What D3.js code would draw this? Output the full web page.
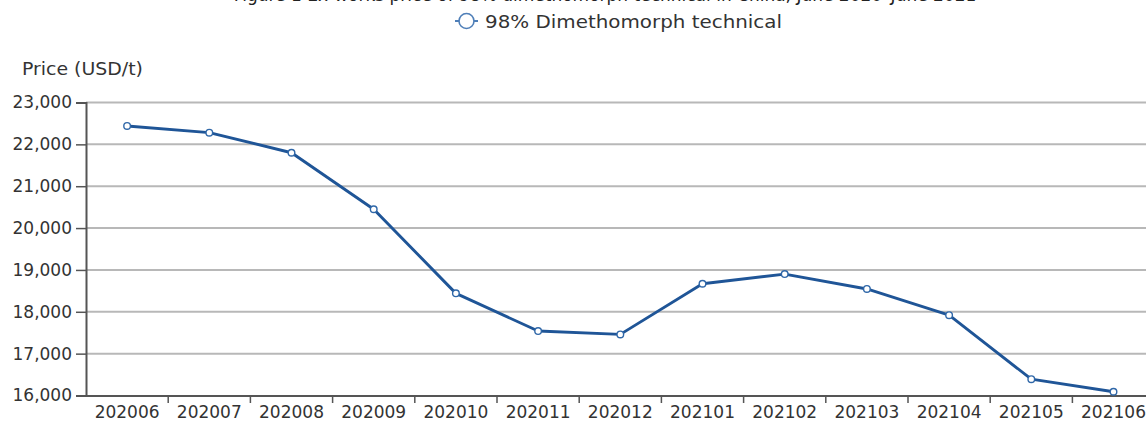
<!DOCTYPE html>
<html><head><meta charset="utf-8">
<script src="https://cdn.jsdelivr.net/npm/d3@7"></script>
<style>
html,body{margin:0;padding:0;background:#fff;}
svg{display:block;font-family:"DejaVu Sans","Noto Sans",sans-serif;}
</style></head>
<body>
<svg id="chart" width="1146" height="425"></svg>
<script>
const titleText = "Figure 1 Ex-works price of 98% dimethomorph technical in China, June 2020–June 2021";
const seriesName = "98% Dimethomorph technical";
const yAxisTitle = "Price (USD/t)";
const categories = ["202006","202007","202008","202009","202010","202011","202012","202101","202102","202103","202104","202105","202106"];
const prices = [22440,22280,21800,20450,18440,17540,17460,18670,18900,18545,17920,16390,16090];
const yTicks = [16000,17000,18000,19000,20000,21000,22000,23000];

const FONT = "'DejaVu Sans','Noto Sans',sans-serif";
const svg = d3.select("#chart");
const x = d3.scaleBand().domain(categories).range([86, 86 + 13*82.2]);
const y = d3.scaleLinear().domain([16000,23000]).range([395.5,102.5]);
const fmt = d3.format(",");

// title (cropped at top edge, as in the reference)
svg.append("text").attr("x",605).attr("y",0.5).attr("text-anchor","middle")
  .attr("font-size",17).attr("fill","#222").text(titleText);

// gridlines
svg.append("g").selectAll("line").data(yTicks.filter(d=>d>16000)).join("line")
  .attr("x1",86).attr("x2",1146).attr("y1",d=>y(d)).attr("y2",d=>y(d))
  .attr("stroke","#b8b8b8").attr("stroke-width",2);

// y axis
const yAxis = svg.append("g").attr("transform","translate(86,0)")
  .call(d3.axisLeft(y).tickValues(yTicks).tickFormat(fmt).tickSize(10).tickPadding(4));
yAxis.select(".domain").attr("stroke","#555").attr("stroke-width",2);
yAxis.selectAll(".tick line").attr("stroke","#555").attr("stroke-width",1.5);
yAxis.selectAll("text").attr("font-size",17).attr("fill","#333").attr("font-family",FONT);

// x axis
const xAxis = svg.append("g").attr("transform","translate(0,395.5)")
  .call(d3.axisBottom(x).tickSize(0).tickPadding(10));
xAxis.select(".domain").attr("stroke","#555").attr("stroke-width",2);
xAxis.selectAll("text").attr("font-size",17).attr("fill","#333").attr("font-family",FONT);
// tick marks between categories
svg.append("g").selectAll("line").data(categories.slice(1)).join("line")
  .attr("x1",d=>x(d)).attr("x2",d=>x(d)).attr("y1",395.5).attr("y2",403)
  .attr("stroke","#555").attr("stroke-width",1.5);

// y axis title
svg.append("text").attr("x",22).attr("y",75).attr("font-size",17).attr("fill","#333")
  .attr("textLength",121).attr("lengthAdjust","spacingAndGlyphs").text(yAxisTitle);

// line
const cx = d => x(d) + x.bandwidth()/2;
const line = d3.line().x((d,i)=>cx(categories[i])).y(d=>y(d)).curve(d3.curveLinear);
svg.append("path").datum(prices).attr("d",line).attr("fill","none")
  .attr("stroke","#1f5597").attr("stroke-width",2.9).attr("stroke-linejoin","round");
svg.append("g").selectAll("circle").data(prices).join("circle")
  .attr("cx",(d,i)=>cx(categories[i])).attr("cy",d=>y(d)).attr("r",3.3)
  .attr("fill","#fff").attr("stroke","#2f67a8").attr("stroke-width",1.4);

// legend
const lg = svg.append("g");
lg.append("line").attr("x1",455).attr("x2",478).attr("y1",21).attr("y2",21)
  .attr("stroke","#4f7fb8").attr("stroke-width",2);
lg.append("circle").attr("cx",466.5).attr("cy",21).attr("r",7.5)
  .attr("fill","#fff").attr("stroke","#4f7fb8").attr("stroke-width",1.6);
lg.append("text").attr("x",485).attr("y",27.5).attr("font-size",18.5).attr("fill","#333")
  .attr("textLength",297).attr("lengthAdjust","spacingAndGlyphs").text(seriesName);
</script>
</body></html>
